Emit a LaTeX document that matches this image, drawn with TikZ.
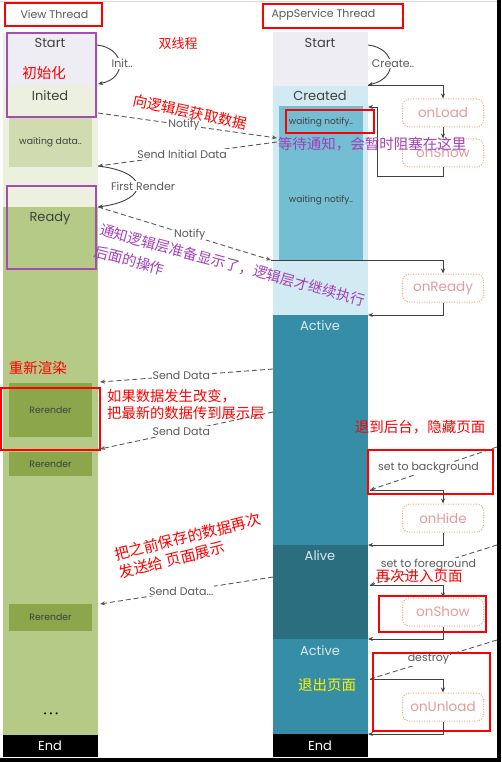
\documentclass[tikz,border=0pt]{standalone}
\usepackage{fontspec}
\setmainfont{Poppins}
\newfontfamily\cjk{Noto Sans CJK SC}
\usetikzlibrary{arrows.meta,positioning}
\definecolor{lavender}{HTML}{EEEDF4}
\definecolor{palegreen}{HTML}{EBF0DF}
\definecolor{waitgreen}{HTML}{D0DCB0}
\definecolor{readygreen}{HTML}{B6CA88}
\definecolor{rendergreen}{HTML}{8BA64B}
\definecolor{paleblue}{HTML}{D2EAF1}
\definecolor{waitblue}{HTML}{73BED2}
\definecolor{activeblue}{HTML}{368EA6}
\definecolor{aliveblue}{HTML}{2A6E7F}
\definecolor{activetext}{HTML}{D9E8EE}
\definecolor{lifeorange}{HTML}{F2A874}
\definecolor{lifepink}{HTML}{E49A9A}
\definecolor{notepurple}{HTML}{A23FB8}
\definecolor{framepurple}{HTML}{A24FAE}
\definecolor{labelgray}{HTML}{5A5A5A}
\definecolor{linegray}{HTML}{404040}
\begin{document}
\begin{tikzpicture}[x=1pt,y=-1pt,
  title/.style={text=linegray,font=\fontsize{13}{13}\selectfont},
  head/.style={text=labelgray,font=\fontsize{11}{11}\selectfont,anchor=west},
  small/.style={text=linegray,font=\fontsize{9.3}{9.3}\selectfont},
  renderbox/.style={small,fill=rendergreen,minimum width=83pt},
  lbl/.style={text=labelgray,fill=white,inner sep=1pt,font=\fontsize{11}{11}\selectfont},
  life/.style={draw=lifeorange,line width=1pt,dash pattern=on 1pt off 1.5pt,rounded corners=7pt,
    minimum width=81pt,minimum height=28pt,text=lifepink,font=\fontsize{13.5}{13.5}\selectfont},
  flow/.style={draw=linegray,line width=0.9pt,-{Stealth[length=5pt,width=4pt]}},
  msg/.style={draw=labelgray,line width=0.9pt,dash pattern=on 5pt off 3pt,-{Stealth[length=5pt,width=4pt]}},
  note/.style={text=red,font=\cjk\fontsize{14.5}{18}\selectfont,inner sep=0pt},
  pnote/.style={note,text=notepurple},
  redframe/.style={draw=red,line width=1.5pt},
  purpleframe/.style={draw=framepurple,line width=1.5pt}]
\useasboundingbox (0,0) rectangle (501,762);
\draw[gray!30] (0,1) -- (497,1);
\fill[black] (497,0) rectangle (501,762);
\fill[black] (0,758) rectangle (501,762);

\node[head] (vhead) at (17,14) {View Thread};
\draw[redframe] (5,3) rectangle (102,26);
\node[head] (ahead) at (268,15) {AppService Thread};
\draw[redframe] (263,4) rectangle (403,28);

\fill[lavender] (3,33) rectangle (98,86);
\fill[palegreen] (3,86) rectangle (98,207);
\fill[readygreen] (3,207) rectangle (98,735);
\fill[black] (3,735) rectangle (98,757);
\node[title] (vstart) at (50,43) {Start};
\node[title] (vinited) at (50,96) {Inited};
\node[small,fill=waitgreen,minimum width=83pt,minimum height=50pt] (vwait) at (50.5,142) {waiting data..};
\node[title] (vready) at (50,218) {Ready};
\node[renderbox,minimum height=54pt] (render1) at (50.5,410) {Rerender};
\node[renderbox,minimum height=24pt] (render2) at (50.5,464) {Rerender};
\node[renderbox,minimum height=27pt] (render3) at (50.5,617.5) {Rerender};
\node[text=black,font=\fontsize{8}{8}\selectfont] (vdots) at (51,715) {•\hspace{2.5pt}•\hspace{2.5pt}•};
\node[title,text=white] (vend) at (50,746) {End};

\fill[lavender] (273,32) rectangle (368,86);
\fill[paleblue] (273,86) rectangle (368,315);
\fill[waitblue] (279,106) rectangle (363,261);
\fill[activeblue] (273,315) rectangle (368,545);
\fill[aliveblue] (273,545) rectangle (368,639);
\fill[activeblue] (273,639) rectangle (368,734);
\fill[black] (273,734) rectangle (368,757);
\node[title] (astart) at (320,43) {Start};
\node[title] (acreated) at (320,96) {Created};
\node[small,font=\fontsize{9}{9}\selectfont] (await1) at (321,122) {waiting notify..};
\node[small,font=\fontsize{9}{9}\selectfont] (await2) at (321,200) {waiting notify..};
\node[title,text=activetext] (aactive1) at (320,326) {Active};
\node[title,text=activetext] (aalive) at (320,556) {Alive};
\node[title,text=activetext] (aactive2) at (320,651) {Active};
\node[title,text=white] (aend) at (320,746) {End};

\node[life] (onload) at (443,113) {onLoad};
\node[life] (onshowa) at (443,153) {onShow};
\node[life] (onready) at (443,288) {onReady};
\node[life] (onhide) at (443,518) {onHide};
\node[life] (onshowb) at (443,612) {onShow};
\node[life] (onunload) at (443,707) {onUnload};

\coordinate (vs) at (97,45);
\coordinate (vi) at (98,84);
\coordinate (as) at (368,45);
\coordinate (cr) at (368,85);
\coordinate (wn) at (368,107);
\coordinate (rn) at (271,260);
\coordinate (ac) at (368,315);
\coordinate (bg) at (370,490);
\coordinate (al) at (368,545);
\coordinate (fg) at (370,585);
\coordinate (ac2) at (368,639);
\coordinate (ds) at (370,679);
\coordinate (en) at (368,734);
\draw[flow] (vs) .. controls (125,48) and (128,78) .. (vi) node[lbl,pos=.5,xshift=3pt] {Init..};
\draw[flow] (as) .. controls (396,48) and (399,78) .. (cr) node[lbl,pos=.5,xshift=3pt] {Create..};
\draw[flow] (cr) -| (onload.north);
\draw[flow] (onload) -- (onshowa);
\draw[flow] (onshowa.south) -- ++(0,9) -| (377,107) -- (wn);
\draw[flow] (rn) -| (onready.north);
\draw[flow] (onready.south) |- (ac);
\draw[flow] (bg) -| (onhide.north);
\draw[flow] (onhide.south) |- (al);
\draw[flow] (fg) -| (onshowb.north);
\draw[flow] (onshowb.south) |- (ac2);
\draw[flow] (ds) -| (onunload.north);
\draw[flow] (onunload.south) |- (en);

\coordinate (n1s) at (98,113);
\coordinate (n1e) at (277,138);
\coordinate (d0s) at (277,142);
\coordinate (d0e) at (98,166);
\coordinate (fre) at (98,207);
\coordinate (sd1s) at (273,369);
\coordinate (sd1e) at (100,382);
\coordinate (sd2s) at (273,412);
\coordinate (sd2e) at (100,449);
\coordinate (sd3s) at (273,577);
\coordinate (sd3e) at (100,604);
\coordinate (bgs) at (497,447);
\coordinate (fgs) at (497,545);
\coordinate (dss) at (497,640);
\draw[msg] (n1s) -- (n1e) node[lbl,pos=.48] {Notify};
\draw[msg] (d0s) -- (d0e) node[lbl,pos=.53] {Send Initial Data};
\draw[flow] (d0e) .. controls (150,172) and (150,200) .. (fre) node[lbl,pos=.5,xshift=6pt] {First Render};
\draw[msg] (fre) -- (rn) node[lbl,pos=.53] {Notify};
\draw[msg] (sd1s) -- (sd1e) node[lbl,pos=.53] {Send Data};
\draw[msg] (sd2s) -- (sd2e) node[lbl,pos=.53] {Send Data};
\draw[msg] (sd3s) -- (sd3e) node[lbl,pos=.53] {Send Data...};
\draw[msg] (bgs) -- (bg) node[lbl,pos=.54,yshift=2pt] {set to background};
\draw[msg] (fgs) -- (fg) node[lbl,pos=.54,yshift=2pt] {set to foreground};
\draw[msg] (dss) -- (ds) node[lbl,pos=.54,yshift=2pt] {destroy};

\draw[purpleframe] (7,33) rectangle (96,117);
\draw[purpleframe] (7,186) rectangle (96,269);
\draw[redframe] (286,110) rectangle (374,133);
\draw[redframe] (1,388) rectangle (100,450);
\draw[redframe] (368,450) rectangle (493,494);
\draw[redframe] (379,596) rectangle (486,632);
\draw[redframe] (373,653) rectangle (490,731);

\node[note,font=\cjk\fontsize{13}{13}\selectfont] (twin) at (178,44) {双线程};
\node[note] (initnote) at (44,73) {初始化};
\node[note,rotate=-12] (fetchnote) at (190,112) {向逻辑层获取数据};
\node[pnote] (waitnote) at (372,144) {等待通知，会暂时阻塞在这里};
\node[pnote,rotate=-15,anchor=north west,align=left,font=\cjk\fontsize{14.4}{22}\selectfont] (readynote) at (102,223) {通知逻辑层准备显示了，逻辑层才继续执行\\后面的操作};
\node[note] (rendernote) at (38,368) {重新渲染};
\node[note,anchor=west,align=left,font=\cjk\fontsize{14.3}{17}\selectfont] (changenote) at (107,404.5) {如果数据发生改变，\\把最新的数据传到展示层};
\node[note] (hidenote) at (420,427) {退到后台，隐藏页面};
\node[note,rotate=14,anchor=north west,align=left,font=\cjk\fontsize{15}{18.5}\selectfont] (resendnote) at (113,548) {把之前保存的数据再次\\发送给 页面展示};
\node[note] (shownote) at (419,576) {再次进入页面};
\node[note,text=yellow] (exitnote) at (327,685) {退出页面};
\end{tikzpicture}
\end{document}
